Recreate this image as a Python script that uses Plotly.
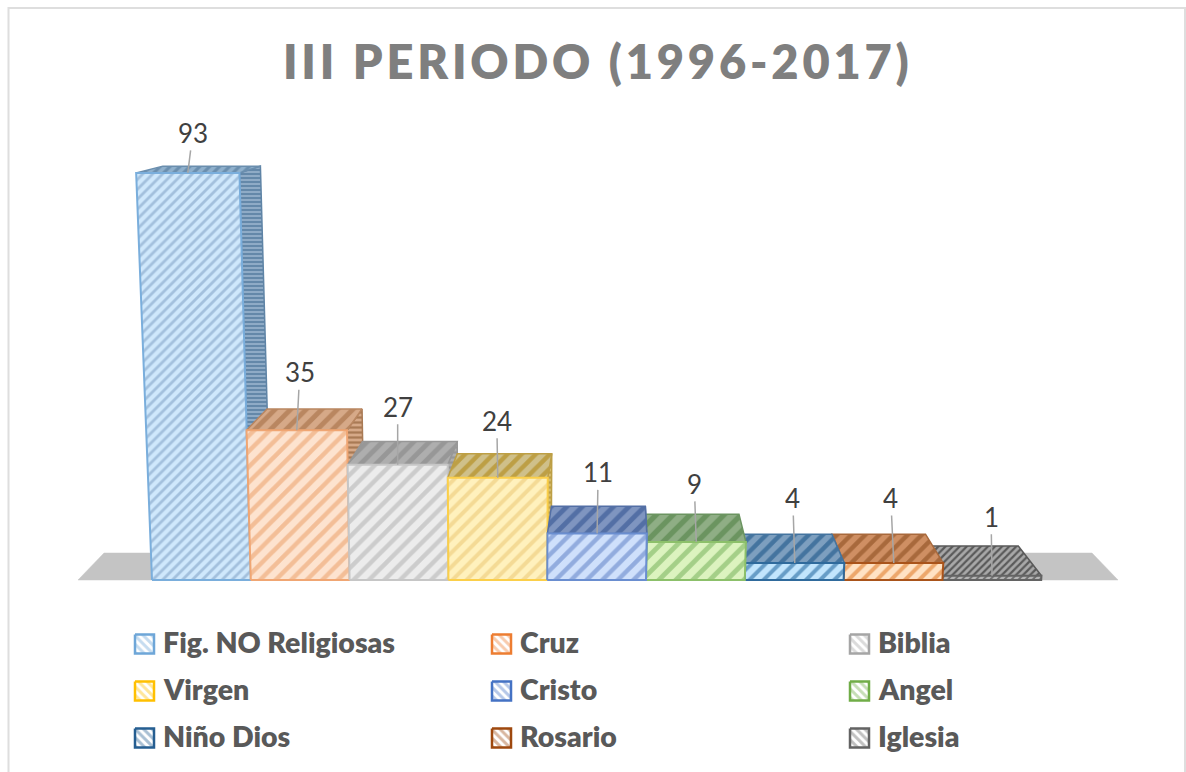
import plotly.graph_objects as go

categories = ["Fig. NO Religiosas", "Cruz", "Biblia", "Virgen", "Cristo", "Angel", "Niño Dios", "Rosario", "Iglesia"]
values = [93, 35, 27, 24, 11, 9, 4, 4, 1]
title_text = "III PERIODO (1996-2017)"

outline = ["#7aaedc", "#f0a673", "#c6c6c6", "#fbcf4a", "#6a8ed0", "#8cc06a", "#2f6a9c", "#a9531a", "#636363"]
front_bg = ["#cfe8fc", "#fde3cf", "#ececec", "#fff1bd", "#cfe0fb", "#dcf3bf", "#c2e5fd", "#ffe2c4", "#b5b5b5"]
front_fg = ["#90afd0", "#efae7e", "#bfbfbf", "#f0d084", "#7896d2", "#8cc070", "#3f7fb0", "#e58f45", "#4f4f4f"]
top_bg = ["#8fb0cc", "#d6a988", "#aeaeae", "#cfc08a", "#7f95c0", "#8fae85", "#7d9fbf", "#cf8f63", "#a8a8a8"]
top_fg = ["#6a8eae", "#b98660", "#979797", "#bd9f45", "#536fa5", "#6b9460", "#44749f", "#a8693c", "#5a5a5a"]
side_bg = ["#8fabc6", "#d6a988", "#aeaeae", "#d8bf70", "#7f95c0", "#8fae85", "#7d9fbf", "#cf8f63", "#a8a8a8"]
side_fg = ["#5f84a6", "#a97a55", "#979797", "#bd9f45", "#536fa5", "#6b9460", "#44749f", "#a8693c", "#5a5a5a"]
swatch_line = ["#6ea6d8", "#ed7d31", "#a5a5a5", "#ffc000", "#4472c4", "#70ad47", "#255e91", "#9e480e", "#636363"]

pattern_size = [7, 11, 11, 10, 11, 12, 10, 10, 5]
label_dx = [5, 3, 0, -1, 1, -2, -2, -3, -1]
label_dy = [-40, -58, -58, -57, -61, -58, -65, -65, -59]
paint_order = [0, 1, 2, 3, 8, 7, 6, 5, 4]

W, H = 1186, 772
PX_X, PX_Y = 98.8, 4.22
LEFT_PX, BASE_PX = 152, 580


def project(u, h, deep=False):
    x = u + (u - 3.52) * 4.9e-4 * h
    y = h * (1 + 4e-4 * h)
    if deep:
        x -= 0.055 * (x - 4.74)
        y += 7.1 - 0.059 * h
    return x, y


def to_x(px):
    return (px - LEFT_PX) / PX_X


def to_y(py):
    return (BASE_PX - py) / PX_Y


def face(points, bg, fg, line, size, name, shape="/", width=1.5, solidity=0.45, fgopacity=1):
    xs = [p[0] for p in points] + [points[0][0]]
    ys = [p[1] for p in points] + [points[0][1]]
    return go.Scatter(
        x=xs, y=ys, mode="lines", fill="toself", name=name, showlegend=False, hoverinfo="skip",
        fillcolor=bg, line=dict(color=line, width=width),
        fillpattern=dict(shape=shape, bgcolor=bg, fgcolor=fg, fgopacity=fgopacity, size=size, solidity=solidity),
    )


fig = go.Figure()

# floor
fig.add_trace(go.Scatter(
    x=[to_x(78), to_x(1118), to_x(1092), to_x(104), to_x(78)],
    y=[to_y(580), to_y(580), to_y(553), to_y(553), to_y(580)],
    mode="lines", fill="toself", fillcolor="#c4c4c4", line=dict(color="#c4c4c4", width=0.5),
    hoverinfo="skip", showlegend=False,
))

for i in paint_order:
    h = values[i]
    l, r = i, i + 1
    size = pattern_size[i]
    if i <= 4:
        fig.add_trace(face(
            [project(r, h), project(r, h, True), project(r, 0, True), project(r, 0)],
            side_bg[i], side_fg[i], side_fg[i], max(4, size // 2), categories[i], "-",
        ))
    fig.add_trace(face(
        [project(l, h), project(r, h), project(r, h, True), project(l, h, True)],
        top_bg[i], top_fg[i], top_fg[i], size, categories[i],
    ))
    fig.add_trace(face(
        [project(l, 0), project(r, 0), project(r, h), project(l, h)],
        front_bg[i], front_fg[i], outline[i], size, categories[i], solidity=0.4, width=2, fgopacity=0.7,
    ))

# value labels with leader lines
annotations = []
for i, h in enumerate(values):
    x0, y0 = project(i + 0.5, h)
    annotations.append(dict(
        x=x0, y=y0, xref="x", yref="y", text=str(h), showarrow=True, arrowhead=0, arrowwidth=1.5,
        arrowcolor="#a6a6a6", ax=label_dx[i], ay=label_dy[i], axref="pixel", ayref="pixel",
        font=dict(family="Lato", size=26, color="#404040"), standoff=0,
    ))

# legend grid
col_px = [135, 492, 850]
row_px = [644, 691, 738]
SW = 19
for i, name in enumerate(categories):
    cx, cy = col_px[i % 3], row_px[i // 3]
    pts = [(to_x(cx), to_y(cy - SW / 2)), (to_x(cx + SW), to_y(cy - SW / 2)),
           (to_x(cx + SW), to_y(cy + SW / 2)), (to_x(cx), to_y(cy + SW / 2))]
    fig.add_trace(face(pts, "#ffffff", swatch_line[i], swatch_line[i], 6, name, "\\", width=2.5,
                       solidity=0.5, fgopacity=0.4))
    annotations.append(dict(
        x=to_x(cx + 26), y=to_y(cy - 2), xref="x", yref="y", text=name, showarrow=False,
        xanchor="left", yanchor="middle",
        font=dict(family="Lato", size=28.5, color="#595959", weight=800),
    ))

fig.update_layout(
    width=W, height=H, margin=dict(l=0, r=0, t=0, b=0),
    paper_bgcolor="white", plot_bgcolor="white", showlegend=False,
    title=dict(text=title_text, x=0.504, xanchor="center", y=0.919, yanchor="middle",
               font=dict(family="Lato", size=47, color="#7f7f7f", weight=800)),
    xaxis=dict(range=[to_x(0), to_x(W)], visible=False, fixedrange=True),
    yaxis=dict(range=[to_y(H), to_y(0)], visible=False, fixedrange=True),
    annotations=annotations,
    shapes=[dict(type="rect", xref="paper", yref="paper", x0=8.5 / W, x1=1185 / W, y0=-10 / H, y1=(H - 8) / H,
                 line=dict(color="#dedede", width=2), fillcolor="rgba(0,0,0,0)", layer="below")],
)

post = """
document.body.style.margin = '0';
document.body.style.overflow = 'hidden';
var t = document.querySelector('.gtitle');
if (t) { t.style.letterSpacing = '3.8px'; }
"""
fig.write_html("out.html", post_script=post, config=dict(displayModeBar=False))
